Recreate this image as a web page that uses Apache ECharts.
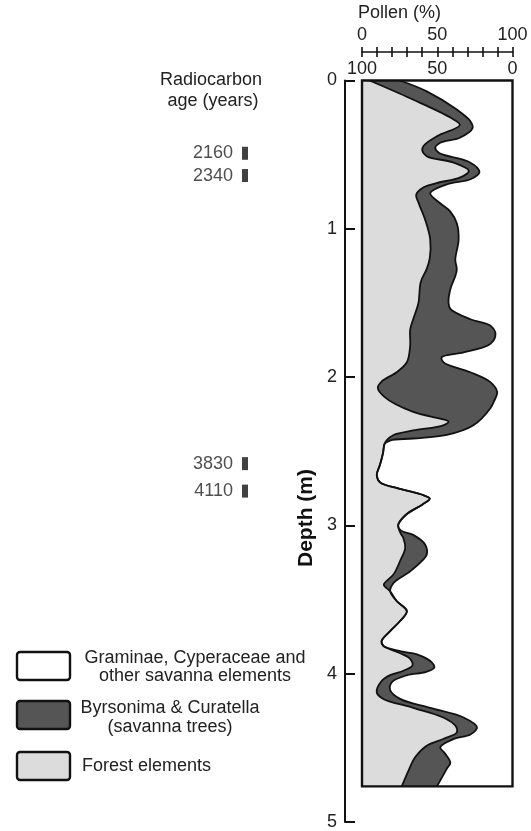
<!DOCTYPE html>
<html><head><meta charset="utf-8">
<script src="https://cdn.jsdelivr.net/npm/echarts@6/dist/echarts.min.js"></script>
<style>html,body{margin:0;padding:0;background:#fff}#c{width:531px;height:831px}</style>
</head><body><div id="c"></div>
<script>
// ---- data ----
// Boundary of "Forest elements" (cumulative %, read from the left / top scale)
const forestDepth = [0,0.12,0.25,0.30,0.375,0.44,0.47,0.51,0.554,0.61,0.655,0.69,0.72,0.77,0.825,0.94,1.07,1.2,1.27,1.36,1.5,1.61,1.68,1.79,1.9,1.967,2.03,2.07,2.13,2.235,2.28,2.30,2.325,2.36,2.39,2.426,2.45,2.51,2.59,2.66,2.71,2.75,2.79,2.82,2.86,2.93,3.0,3.05,3.086,3.153,3.24,3.33,3.40,3.444,3.51,3.578,3.645,3.713,3.78,3.813,3.86,3.9,3.945,3.98,4.01,4.05,4.127,4.17,4.23,4.295,4.35,4.395,4.44,4.485,4.563,4.653,4.76];
const forestPct   = [5,32,58.7,65,50,41,40,43,61,71,65,50,41,36,37.6,42,45.3,45,43,39,37.5,34,32,32,29.8,23,13,10.5,14.5,34,52,57.5,54,34,21,16.4,15,14,12,9.8,12,24,39,45,40,29,24,25.5,27.5,28.7,25.3,21,14.5,18.7,23,29.8,25.3,18.7,13,14.2,25,32,33.5,27.5,18.7,13,9.8,14.2,34,54,62,63,54,43,35.3,30.9,26.4];
// Boundary of Forest + "Byrsonima & Curatella" (cumulative %); the rest up to 100 % is Graminae etc.
const forestTreesDepth = [0,0.073,0.196,0.274,0.32,0.386,0.42,0.453,0.487,0.543,0.588,0.62,0.666,0.70,0.76,0.828,0.884,0.963,1.074,1.208,1.273,1.318,1.407,1.497,1.54,1.61,1.653,1.71,1.776,1.833,1.866,1.9,1.967,2.034,2.1,2.168,2.21,2.325,2.39,2.414,2.426,2.45,2.51,2.59,2.66,2.71,2.75,2.79,2.82,2.86,2.93,3.0,3.035,3.064,3.13,3.198,3.24,3.31,3.388,3.444,3.51,3.578,3.645,3.713,3.78,3.813,3.85,3.87,3.925,3.96,3.99,4.01,4.055,4.11,4.17,4.23,4.295,4.36,4.41,4.44,4.496,4.54,4.6,4.64,4.76];
const forestTreesPct   = [25.3,43,63,72,73.5,65,52,48.7,51,69.8,76.5,78,72,56.5,45.3,52,58.7,63,64.2,62,63,62,58.7,57.5,58.7,72,85.3,88.7,85.3,67.5,53,54.2,72,85.3,89.8,87.5,85.3,74,56.4,34,19,15,14,12,9.8,12,24,39,45,40,29,24,26,34,42,43,39.8,32,21,18.7,23,29.8,25.3,18.7,13,14.2,26,36.5,46.5,48,42,30,20,18.7,25.3,45.3,67.5,76.4,72,61,52,55.3,58.7,56.4,49.8];
const coreBottom = 4.76;           // bottom of the sampled core (m)
const ageLabels = ['2160','2340','3830','4110'];
const ageDepths = [0.49,0.64,2.58,2.765];
const depthTicks = [0,1,2,3,4,5];
const pollenLabels = [0,50,100];

const FONT = "'Liberation Sans', Arial, Helvetica, sans-serif";
const LIGHT = '#dcdcdc', DARK = '#555555', INK = '#111111';

// centripetal Catmull-Rom -> cubic bezier path segments (pixel space)
function bez(P){
  let s = '';
  const n = P.length;
  for(let i=0;i<n-1;i++){
    const p0 = P[Math.max(i-1,0)], p1 = P[i], p2 = P[i+1], p3 = P[Math.min(i+2,n-1)];
    const d1 = Math.pow(Math.hypot(p1[0]-p0[0],p1[1]-p0[1]),0.5);
    const d2 = Math.pow(Math.hypot(p2[0]-p1[0],p2[1]-p1[1]),0.5);
    const d3 = Math.pow(Math.hypot(p3[0]-p2[0],p3[1]-p2[1]),0.5);
    let c1, c2;
    if(d1 < 1e-6 || d2 < 1e-6) c1 = p1.slice(); else {
      const a = d1*d1, b = d2*d2, k = 2*a + 3*d1*d2 + b, m = 3*d1*(d1+d2);
      c1 = [(a*p2[0] - b*p0[0] + k*p1[0])/m, (a*p2[1] - b*p0[1] + k*p1[1])/m];
    }
    if(d3 < 1e-6 || d2 < 1e-6) c2 = p2.slice(); else {
      const a = d3*d3, b = d2*d2, k = 2*a + 3*d3*d2 + b, m = 3*d3*(d3+d2);
      c2 = [(a*p1[0] - b*p3[0] + k*p2[0])/m, (a*p1[1] - b*p3[1] + k*p2[1])/m];
    }
    s += ' C' + c1[0].toFixed(2)+','+c1[1].toFixed(2)+' '+c2[0].toFixed(2)+','+c2[1].toFixed(2)+' '+p2[0].toFixed(2)+','+p2[1].toFixed(2);
  }
  return s;
}
const pt = p => p[0].toFixed(2)+','+p[1].toFixed(2);

const chart = echarts.init(document.getElementById('c'), null, {renderer:'canvas'});

function renderPollen(params, api){
  const F = forestDepth.map((d,i)=>api.coord([forestPct[i], d]));
  const T = forestTreesDepth.map((d,i)=>api.coord([forestTreesPct[i], d]));
  const tl = api.coord([0,0]), br = api.coord([100,coreBottom]), bl = api.coord([0,coreBottom]);
  const grey = 'M'+pt(tl)+' L'+pt(F[0])+bez(F)+' L'+pt(bl)+' Z';
  const Tr = T.slice().reverse();
  const dark = 'M'+pt(F[0])+bez(F)+' L'+pt(Tr[0])+bez(Tr)+' Z';
  const lineF = 'M'+pt(F[0])+bez(F);
  const lineT = 'M'+pt(T[0])+bez(T);
  return {type:'group', children:[
    {type:'path', shape:{pathData:grey}, style:{fill:LIGHT, stroke:null}},
    {type:'path', shape:{pathData:dark}, style:{fill:DARK, stroke:null}},
    {type:'path', shape:{pathData:lineF}, style:{fill:null, stroke:INK, lineWidth:1.8}},
    {type:'path', shape:{pathData:lineT}, style:{fill:null, stroke:INK, lineWidth:1.8}},
    {type:'rect', shape:{x:tl[0], y:tl[1], width:br[0]-tl[0], height:br[1]-tl[1]}, style:{fill:null, stroke:INK, lineWidth:2.4}}
  ]};
}

chart.setOption({
  animation:false,
  backgroundColor:'#fff',
  grid:[
    {left:362, right:18.5, top:80.5, bottom:8},
    {left:241, width:8, top:80.5, bottom:8}
  ],
  xAxis:[
    {gridIndex:0, type:'value', position:'top', offset:28.5, min:0, max:100, interval:10,
     axisLine:{show:true, onZero:false, lineStyle:{color:INK, width:1.6}},
     axisTick:{show:true, length:5, lineStyle:{color:INK, width:1.6}},
     axisLabel:{margin:8, fontFamily:FONT, fontSize:18, color:'#222',
       formatter:v=>pollenLabels.indexOf(v)>=0 ? String(v) : ''},
     splitLine:{show:false}},
    {gridIndex:0, type:'value', position:'top', offset:28.5, min:0, max:100, interval:10, inverse:true,
     axisLine:{show:false, onZero:false},
     axisTick:{show:true, inside:true, length:5, lineStyle:{color:INK, width:1.6}},
     axisLabel:{inside:true, margin:8, fontFamily:FONT, fontSize:18, color:'#222',
       formatter:v=>pollenLabels.indexOf(v)>=0 ? String(v) : ''},
     splitLine:{show:false}},
    {gridIndex:1, type:'value', min:0, max:1, show:false}
  ],
  yAxis:[
    {gridIndex:0, type:'value', min:0, max:5, interval:1, inverse:true, position:'left', offset:17,
     axisLine:{show:true, onZero:false, lineStyle:{color:INK, width:2}},
     axisTick:{show:true, inside:true, length:10, lineStyle:{color:INK, width:2}},
     axisLabel:{margin:8, fontFamily:FONT, fontSize:18, color:'#222',
       formatter:v=>depthTicks.indexOf(v)>=0 ? String(v) : ''},
     splitLine:{show:false}},
    {gridIndex:1, type:'value', min:0, max:5, inverse:true, show:false}
  ],
  series:[
    {type:'custom', xAxisIndex:0, yAxisIndex:0, data:[[0,0]], renderItem:renderPollen, clip:false, silent:true, z:2},
    {type:'scatter', xAxisIndex:2, yAxisIndex:1, silent:true,
     data:ageDepths.map(d=>[0.5,d]), symbol:'rect', symbolSize:[6,13],
     itemStyle:{color:'#111'},
     label:{show:true, position:'left', distance:9, fontFamily:FONT, fontSize:18, color:'#222',
       formatter:p=>ageLabels[p.dataIndex]}}
  ],
  graphic:[
    {type:'text', left:358, top:4, style:{text:'Pollen (%)', font:'18px '+FONT, fill:'#222'}},
    {type:'text', x:211, y:80, style:{text:'Radiocarbon', font:'18px '+FONT, fill:'#222', align:'center', verticalAlign:'middle'}},
    {type:'text', x:213, y:101, style:{text:'age (years)', font:'18px '+FONT, fill:'#222', align:'center', verticalAlign:'middle'}},
    {type:'text', x:306, y:518, rotation:Math.PI/2, style:{text:'Depth (m)', font:'bold 21px '+FONT, fill:'#111', align:'center', verticalAlign:'middle'}},
    // legend
    {type:'rect', shape:{x:17, y:652, width:53, height:28, r:3}, style:{fill:'#fff', stroke:INK, lineWidth:2.4}},
    {type:'text', x:195, y:658, style:{text:'Graminae, Cyperaceae and', font:'18px '+FONT, fill:'#222', align:'center', verticalAlign:'middle'}},
    {type:'text', x:195, y:676, style:{text:'other savanna elements', font:'18px '+FONT, fill:'#222', align:'center', verticalAlign:'middle'}},
    {type:'rect', shape:{x:17, y:701, width:53, height:28, r:3}, style:{fill:DARK, stroke:INK, lineWidth:2.4}},
    {type:'text', x:170, y:708, style:{text:'Byrsonima & Curatella', font:'18px '+FONT, fill:'#222', align:'center', verticalAlign:'middle'}},
    {type:'text', x:170, y:727, style:{text:'(savanna trees)', font:'18px '+FONT, fill:'#222', align:'center', verticalAlign:'middle'}},
    {type:'rect', shape:{x:17, y:752, width:53, height:28, r:3}, style:{fill:LIGHT, stroke:INK, lineWidth:2.4}},
    {type:'text', x:82, y:766, style:{text:'Forest elements', font:'18px '+FONT, fill:'#222', align:'left', verticalAlign:'middle'}}
  ]
});
</script></body></html>
